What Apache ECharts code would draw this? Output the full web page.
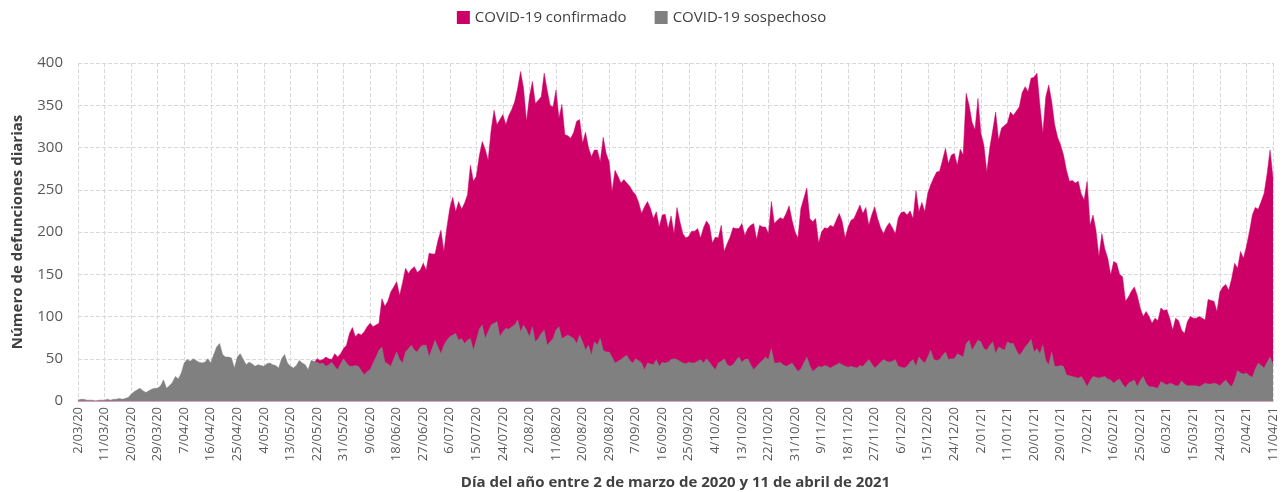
<!DOCTYPE html>
<html lang="es">
<head>
  <meta charset="UTF-8">
  <title>Defunciones diarias COVID-19</title>
  <style>
    html, body { margin: 0; padding: 0; overflow: hidden; background: #fff; }
    #chart { width: 1283px; height: 492px; }
  </style>
</head>
<body>
  <div id="chart"></div>
</body>
<script src="https://cdn.jsdelivr.net/npm/echarts@6/dist/echarts.min.js"></script>
<script>
  // eje x: un día por categoría, del 2/03/2020 al 11/04/2021
  var startDay = new Date(2020, 2, 2);
  var dayCount = 406;
  var dates = [];
  for (var i = 0; i < dayCount; i++) {
    var d = new Date(startDay.getFullYear(), startDay.getMonth(), startDay.getDate() + i);
    var mm = ('0' + (d.getMonth() + 1)).slice(-2);
    var yy = String(d.getFullYear()).slice(-2);
    dates.push(d.getDate() + '/' + mm + '/' + yy);
  }

  // COVID-19 confirmado (defunciones por día)
  var confirmado = [
    0,0,0,0,0,0,0,0,0,0,
    0,0,0,0,1,1,1,2,2,2,
    2,3,3,4,4,5,6,6,7,8,
    8,10,9,12,11,14,16,15,18,17,
    19,18,21,20,23,22,21,24,26,23,
    25,27,24,28,26,29,27,30,28,31,
    29,32,30,33,31,34,32,35,33,34,
    36,35,34,36,35,36,34,36,33,40,
    45,50,48,49,52,50,49,56,52,56,
    62,66,80,87,76,80,78,82,88,92,
    88,90,92,121,112,118,129,135,141,125,
    140,157,151,156,159,152,155,163,155,175,
    174,174,190,202,177,205,228,241,224,236,
    227,234,244,279,260,266,290,307,298,285,
    320,344,327,333,339,327,338,345,354,370,
    390,370,331,360,378,352,356,360,388,368,
    350,348,368,335,351,315,314,311,318,331,
    333,305,318,300,289,297,297,283,312,293,
    283,248,273,266,258,262,258,254,248,244,
    235,222,230,236,228,216,224,206,220,221,
    204,219,198,229,212,198,193,195,201,201,
    204,193,205,213,208,187,194,193,208,177,
    186,194,205,204,204,210,196,204,208,210,
    191,208,206,206,198,236,210,214,217,215,
    222,231,214,200,193,228,240,252,216,212,
    216,187,200,205,204,208,206,214,222,212,
    193,206,214,216,224,232,222,229,208,220,
    230,216,205,198,206,211,205,198,217,223,
    224,220,225,216,249,224,235,224,246,256,
    264,271,272,285,299,281,291,293,279,298,
    291,364,350,330,321,358,317,303,271,299,
    320,342,309,323,326,329,342,338,343,348,
    365,372,366,382,383,388,350,317,360,374,
    354,327,312,303,291,273,260,261,258,260,
    245,238,260,208,220,202,171,198,180,169,
    149,165,163,150,147,118,123,130,135,125,
    110,100,106,100,92,98,95,110,107,108,
    98,84,98,95,84,80,94,100,98,98,
    100,98,96,120,119,118,106,129,135,138,
    131,145,163,157,177,169,183,200,220,229,
    227,236,246,269,297,264
  ];

  // COVID-19 sospechoso (defunciones por día)
  var sospechoso = [
    1,2,2,1,1,1,0,1,1,1,
    2,1,2,2,3,2,3,4,8,11,
    13,15,12,10,12,14,15,15,18,25,
    15,18,22,29,26,33,45,49,47,50,
    48,46,45,46,50,45,55,64,68,55,
    52,52,51,39,52,56,49,43,46,44,
    41,43,42,41,44,45,43,42,39,50,
    55,45,41,39,42,48,45,43,37,48,
    47,46,44,45,41,43,46,41,37,44,
    50,45,41,41,42,41,36,31,35,37,
    45,52,60,64,46,44,41,50,58,49,
    45,58,62,66,60,58,64,66,66,52,
    62,72,64,56,66,72,76,78,80,72,
    74,68,72,74,60,72,85,90,74,82,
    90,92,94,76,82,86,85,88,90,96,
    82,90,84,76,88,70,74,80,84,66,
    70,74,84,88,74,76,78,76,74,68,
    78,70,60,66,54,70,66,74,60,58,
    58,52,45,47,49,52,54,48,45,50,
    48,45,37,45,44,43,49,41,46,45,
    46,49,50,49,47,45,44,46,45,45,
    47,49,45,50,46,41,37,45,47,50,
    43,41,43,48,52,46,49,50,43,37,
    41,45,48,52,49,62,45,45,46,43,
    41,43,45,40,35,38,45,52,42,35,
    38,41,40,42,41,39,41,43,45,43,
    41,40,41,40,39,42,41,45,49,44,
    39,42,46,49,47,46,47,49,41,40,
    39,41,46,49,41,52,48,45,52,60,
    49,48,49,54,58,49,50,50,56,54,
    52,68,72,60,66,72,70,62,60,66,
    70,56,64,62,60,70,68,68,60,54,
    58,64,68,73,58,62,56,66,48,43,
    58,41,41,42,41,31,30,29,28,27,
    29,24,17,24,29,28,27,28,29,26,
    25,21,24,26,20,16,21,23,25,17,
    24,29,21,17,17,16,15,23,21,19,
    21,20,18,18,24,20,18,18,18,18,
    17,19,21,20,20,21,20,18,22,25,
    20,17,25,36,33,32,33,30,28,38,
    45,42,39,46,52,43
  ];

  var seriesNames = ['COVID-19 confirmado', 'COVID-19 sospechoso'];
  var yTicks = { min: 0, max: 400, step: 50 };

  var myChart = echarts.init(document.getElementById('chart'), null, { renderer: 'canvas' });

  var gridLine = { show: true, lineStyle: { color: '#d9d9d9', type: 'dashed', width: 1 } };

  myChart.setOption({
    animation: false,
    textStyle: { fontFamily: 'Open Sans' },
    legend: {
      top: 5,
      left: 'center',
      icon: 'rect',
      itemWidth: 13,
      itemHeight: 13,
      itemGap: 28,
      textStyle: { fontSize: 15, color: '#404040', fontFamily: 'Open Sans' },
      data: seriesNames
    },
    grid: { left: 78, right: 10, top: 63, bottom: 91, outerBoundsMode: 'none' },
    xAxis: {
      type: 'category',
      data: dates,
      boundaryGap: false,
      name: 'Día del año entre 2 de marzo de 2020 y 11 de abril de 2021',
      nameLocation: 'middle',
      nameGap: 74,
      nameTextStyle: { fontSize: 15, fontWeight: 'bold', color: '#404040' },
      axisLine: { lineStyle: { color: '#d9a6bf', width: 1 } },
      axisTick: { show: false },
      axisLabel: { interval: 8, rotate: 90, fontSize: 13, color: '#595959', margin: 6 },
      splitLine: Object.assign({ interval: 8 }, gridLine)
    },
    yAxis: {
      type: 'value',
      min: yTicks.min,
      max: yTicks.max,
      interval: yTicks.step,
      name: 'Número de defunciones diarias',
      nameLocation: 'middle',
      nameGap: 53,
      nameTextStyle: { fontSize: 15, fontWeight: 'bold', color: '#404040' },
      axisLine: { show: false },
      axisTick: { show: false },
      axisLabel: { fontSize: 15, color: '#595959', margin: 15 },
      splitLine: gridLine
    },
    series: [
      {
        name: seriesNames[0],
        type: 'line',
        data: confirmado,
        symbol: 'none',
        sampling: null,
        itemStyle: { color: '#cc0066' },
        lineStyle: { color: '#cc0066', width: 0.5 },
        areaStyle: { color: '#cc0066', opacity: 1 },
        z: 2
      },
      {
        name: seriesNames[1],
        type: 'line',
        data: sospechoso,
        symbol: 'none',
        sampling: null,
        itemStyle: { color: '#808080' },
        lineStyle: { color: '#808080', width: 0.5 },
        areaStyle: { color: '#808080', opacity: 1 },
        z: 3
      }
    ]
  });
</script>
</html>
